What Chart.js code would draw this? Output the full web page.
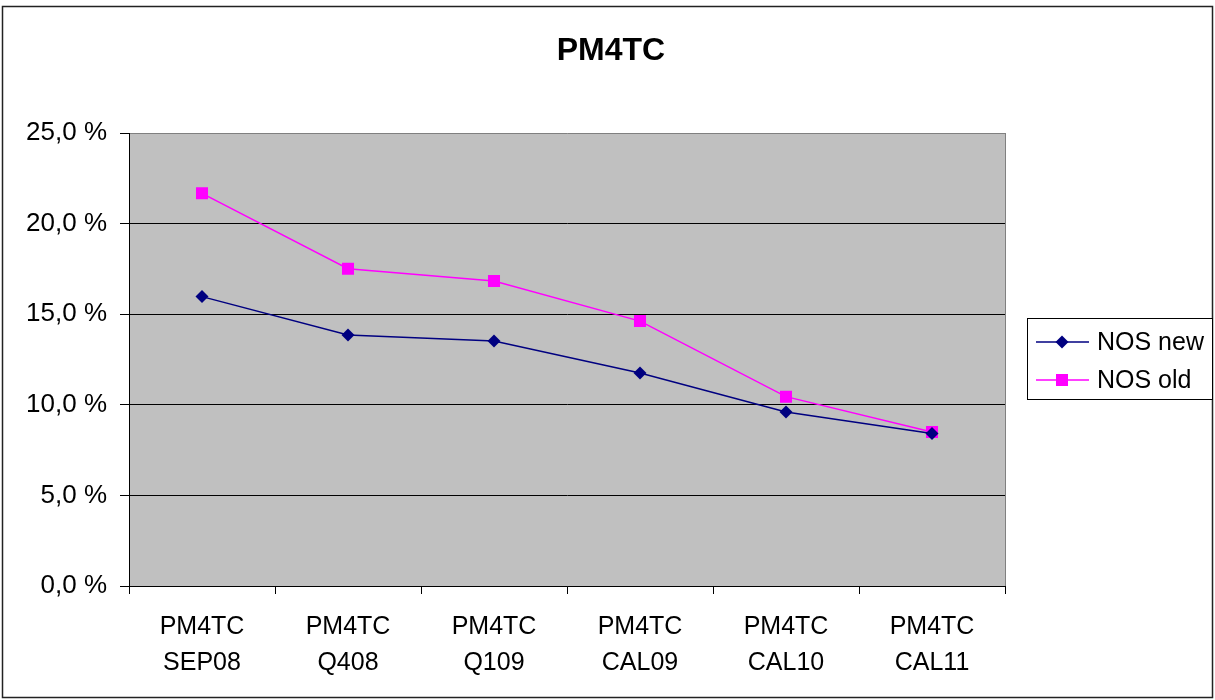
<!DOCTYPE html>
<html>
<head>
<meta charset="utf-8">
<title>PM4TC</title>
<script src="https://cdn.jsdelivr.net/npm/chart.js@4"></script>
<style>
  html, body { margin: 0; padding: 0; background: #ffffff; }
  #wrap { width: 1215px; height: 700px; }
</style>
</head>
<body>
<div id="wrap"><canvas id="chart" width="1215" height="700"></canvas></div>
<script>
// Chart content
const chartTitle = 'PM4TC';
const categories = [
  ['PM4TC', 'SEP08'],
  ['PM4TC', 'Q408'],
  ['PM4TC', 'Q109'],
  ['PM4TC', 'CAL09'],
  ['PM4TC', 'CAL10'],
  ['PM4TC', 'CAL11']
];
const seriesNames = ['NOS new', 'NOS old'];
const nosNew = [15.97, 13.85, 13.52, 11.75, 9.6, 8.42];
const nosOld = [21.67, 17.51, 16.83, 14.62, 10.45, 8.5];
const yTicks = [0, 5, 10, 15, 20, 25];

const FONT = 'Arial, "Liberation Sans", sans-serif';

// Plot background, outer frame, title and legend
const decor = {
  id: 'decor',
  beforeDraw(chart) {
    const { ctx, chartArea: a } = chart;
    ctx.save();
    ctx.fillStyle = '#ffffff';
    ctx.fillRect(0, 0, chart.width, chart.height);
    ctx.fillStyle = '#c0c0c0';
    ctx.fillRect(a.left, a.top, a.right - a.left, a.bottom - a.top);
    ctx.restore();
  },
  afterDraw(chart) {
    const { ctx, chartArea: a } = chart;
    ctx.save();
    // right edge of plot area
    ctx.strokeStyle = '#808080';
    ctx.lineWidth = 1;
    ctx.beginPath();
    ctx.moveTo(Math.round(a.right) + 0.5, a.top);
    ctx.lineTo(Math.round(a.right) + 0.5, a.bottom);
    ctx.stroke();

    // outer frame
    ctx.strokeStyle = '#222222';
    ctx.lineWidth = 1.5;
    ctx.strokeRect(2.5, 6.5, 1210, 691);

    // title
    ctx.fillStyle = '#000000';
    ctx.font = 'bold 32px ' + FONT;
    ctx.textAlign = 'center';
    ctx.textBaseline = 'middle';
    ctx.fillText(chartTitle, 611, 51);

    // legend
    const lx = 1027, ly = 318, lw = 185, lh = 81;
    ctx.fillStyle = '#ffffff';
    ctx.fillRect(lx, ly, lw, lh);
    ctx.strokeStyle = '#000000';
    ctx.lineWidth = 1;
    ctx.strokeRect(lx + 0.5, ly + 0.5, lw, lh);
    const rows = [342, 380];
    chart.data.datasets.forEach((ds, i) => {
      const y = rows[i];
      ctx.strokeStyle = ds.borderColor;
      ctx.lineWidth = 1.5;
      ctx.beginPath();
      ctx.moveTo(1036, y);
      ctx.lineTo(1089, y);
      ctx.stroke();
      ctx.fillStyle = ds.pointBackgroundColor;
      if (ds.pointStyle === 'rectRot') {
        ctx.beginPath();
        ctx.moveTo(1062, y - 6.5);
        ctx.lineTo(1068.5, y);
        ctx.lineTo(1062, y + 6.5);
        ctx.lineTo(1055.5, y);
        ctx.closePath();
        ctx.fill();
      } else {
        ctx.fillRect(1056, y - 6, 12, 12);
      }
      ctx.fillStyle = '#000000';
      ctx.font = '25px ' + FONT;
      ctx.textAlign = 'left';
      ctx.textBaseline = 'middle';
      ctx.fillText(ds.label, 1097, y + 1);
    });
    ctx.restore();
  }
};

new Chart(document.getElementById('chart'), {
  type: 'line',
  data: {
    labels: categories,
    datasets: [
      {
        label: seriesNames[0],
        data: nosNew,
        borderColor: '#000080',
        backgroundColor: '#000080',
        pointBackgroundColor: '#000080',
        pointBorderColor: '#000080',
        borderWidth: 1.5,
        pointStyle: 'rectRot',
        pointRadius: 6.5,
        pointBorderWidth: 0,
        tension: 0
      },
      {
        label: seriesNames[1],
        data: nosOld,
        borderColor: '#ff00ff',
        backgroundColor: '#ff00ff',
        pointBackgroundColor: '#ff00ff',
        pointBorderColor: '#ff00ff',
        borderWidth: 1.5,
        pointStyle: 'rect',
        pointRadius: 8.5,
        pointBorderWidth: 0,
        tension: 0
      }
    ]
  },
  options: {
    responsive: false,
    animation: false,
    layout: { padding: { left: 0, top: 133, right: 210, bottom: 0 } },
    plugins: {
      legend: { display: false },
      title: { display: false },
      tooltip: { enabled: false }
    },
    scales: {
      x: {
        type: 'category',
        offset: true,
        afterFit(scale) { scale.height = 114; },
        grid: {
          offset: true,
          drawOnChartArea: false,
          drawTicks: true,
          tickLength: 8,
          color: '#000000',
          lineWidth: 1
        },
        border: { display: true, color: '#000000', width: 1 },
        ticks: {
          color: '#000000',
          padding: 15,
          maxRotation: 0,
          autoSkip: false,
          font: { family: FONT, size: 25, lineHeight: '36px' }
        }
      },
      y: {
        min: yTicks[0],
        max: yTicks[yTicks.length - 1],
        afterFit(scale) { scale.width = 129; },
        afterBuildTicks(scale) { scale.ticks = yTicks.map(v => ({ value: v })); },
        grid: {
          color: ctx => (ctx.tick && ctx.tick.value === 25 ? '#808080' : '#000000'),
          tickColor: '#000000',
          lineWidth: 1,
          tickLength: 9
        },
        border: { display: true, color: '#000000', width: 1 },
        ticks: {
          color: '#000000',
          padding: 13,
          font: { family: FONT, size: 26 },
          callback: v => v.toFixed(1).replace('.', ',') + ' %'
        }
      }
    }
  },
  plugins: [decor]
});
</script>
</body>
</html>
